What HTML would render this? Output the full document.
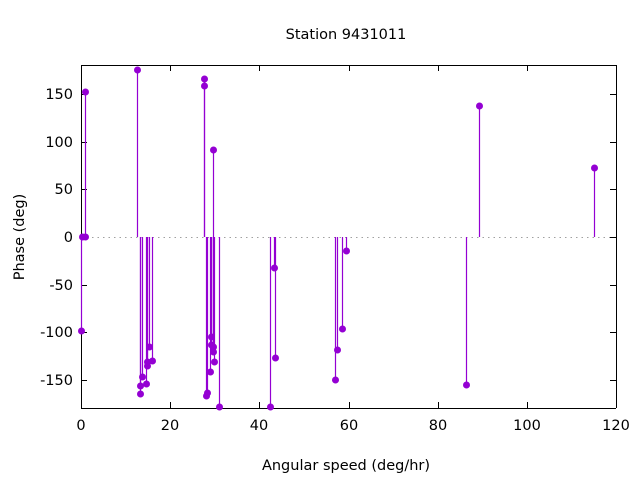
<!DOCTYPE html>
<html><head><style>body{margin:0;background:#fff}svg{display:block}text{font-family:"DejaVu Sans","Liberation Sans",sans-serif;font-size:14.5px;fill:#000}</style></head><body>
<svg width="640" height="480" viewBox="0 0 640 480">
<rect width="640" height="480" fill="#fff"/>
<text x="346" y="39" text-anchor="middle">Station 9431011</text>
<line x1="81" y1="237.5" x2="616" y2="237.5" stroke="#a0a0a0" stroke-dasharray="1.5,4"/>
<g stroke="#000" stroke-width="1" shape-rendering="crispEdges">
<line x1="81.5" y1="65" x2="81.5" y2="408"/><line x1="616.5" y1="65" x2="616.5" y2="408"/>
<line x1="81" y1="65.5" x2="616" y2="65.5"/><line x1="81" y1="408.5" x2="616" y2="408.5"/>
<path d="M81 94.5h6M81 142.5h6M81 189.5h6M81 237.5h6M81 285.5h6M81 332.5h6M81 380.5h6M616 94.5h-6M616 142.5h-6M616 189.5h-6M616 237.5h-6M616 285.5h-6M616 332.5h-6M616 380.5h-6"/>
<path d="M81.5 408v-6M170.5 408v-6M259.5 408v-6M349.5 408v-6M438.5 408v-6M527.5 408v-6M616.5 408v-6M81.5 65v6M170.5 65v6M259.5 65v6M349.5 65v6M438.5 65v6M527.5 65v6M616.5 65v6"/>
</g>
<g text-anchor="end">
<text x="73" y="99">150</text><text x="73" y="147">100</text><text x="73" y="194">50</text><text x="73" y="242">0</text><text x="73" y="290">-50</text><text x="73" y="337">-100</text><text x="73" y="385">-150</text>
</g>
<g text-anchor="middle">
<text x="81" y="430">0</text><text x="170" y="430">20</text><text x="259" y="430">40</text><text x="349" y="430">60</text><text x="438" y="430">80</text><text x="527" y="430">100</text><text x="616" y="430">120</text>
<text x="346" y="470">Angular speed (deg/hr)</text>
</g>
<text transform="translate(24,237) rotate(-90)" text-anchor="middle">Phase (deg)</text>
<g stroke="#9400d3" stroke-width="1.2" fill="none" id="l"></g>
<g fill="#9400d3" id="p"></g>
<script>
var pts=[[81,331],[82,237],[85,237],[85,92],[137,70],[140,394],[140,386],[142,377],[146,384],[147,366],[147,362],[149,347],[152,361],[204,79],[204,86],[213,150],[206,396],[207,393],[210,372],[211,337],[211,345],[213,347],[213,352],[214,362],[219,407],[270,407],[274,268],[275,358],[335,380],[337,350],[342,329],[346,251],[466,385],[479,106],[594,168]];
var l=document.getElementById('l'),p=document.getElementById('p'),ns='http://www.w3.org/2000/svg';
pts.forEach(function(a){var e=document.createElementNS(ns,'line');e.setAttribute('x1',a[0]+0.5);e.setAttribute('x2',a[0]+0.5);e.setAttribute('y1',237);e.setAttribute('y2',a[1]);l.appendChild(e);var c=document.createElementNS(ns,'circle');c.setAttribute('cx',a[0]+0.5);c.setAttribute('cy',a[1]);c.setAttribute('r',3.5);p.appendChild(c);});
</script>
</svg>
</body></html>
